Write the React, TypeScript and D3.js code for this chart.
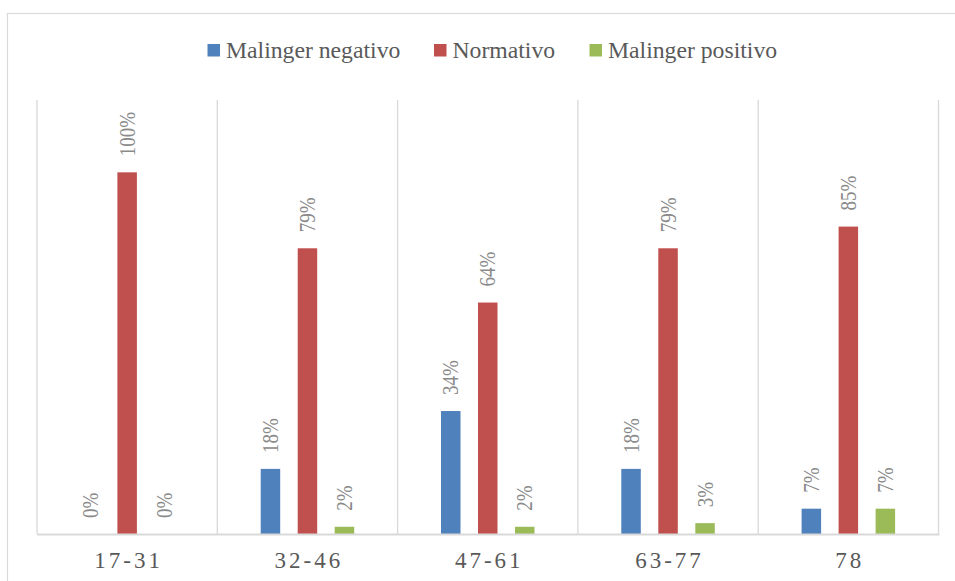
import React from "react";
import * as d3 from "d3";

const categories = ["17-31", "32-46", "47-61", "63-77", "78"];
const seriesNames = ["Malinger negativo", "Normativo", "Malinger positivo"];
const seriesColors = ["#4F81BD", "#C0504D", "#9BBB59"];
const malingerNegativo = [0, 0.18, 0.34, 0.18, 0.07];
const normativo = [1.0, 0.79, 0.64, 0.79, 0.85];
const malingerPositivo = [0, 0.02, 0.02, 0.03, 0.07];
const seriesValues = [malingerNegativo, normativo, malingerPositivo];

const W = 955;
const H = 581;
const plot = { left: 37, right: 938.5, top: 100, bottom: 534 };
const FONT = "'Liberation Serif', 'DejaVu Serif'";

export default function App() {
  const x0 = d3.scaleBand<string>().domain(categories).range([plot.left, plot.right]).padding(0);
  const step = 37;
  const p = 1 - 19.5 / step;
  const x1 = d3
    .scaleBand<string>()
    .domain(seriesNames)
    .range([-step * 1.5, step * 1.5])
    .paddingInner(p)
    .paddingOuter(p / 2);
  const y = d3.scaleLinear().domain([0, 1.2]).range([plot.bottom, plot.top]);
  const fmt = d3.format(".0%");

  const legendX = [207.5, 434, 589.5];
  const catLS = 3;

  return (
    <svg
      width={W}
      height={H}
      style={{ position: "absolute", left: 0, top: 0, background: "#fff", fontFamily: FONT }}
    >
      <rect x={7.5} y={13.5} width={1000} height={700} fill="#fff" stroke="#D9D9D9" strokeWidth={1.2} />
      {/* legend */}
      {seriesNames.map((s, i) => (
        <g key={s}>
          <rect x={legendX[i]} y={44} width={12.5} height={12.5} fill={seriesColors[i]} />
          <text x={legendX[i] + 18.5} y={57.7} fontSize={23.7} fill="#595959" style={{ fontFamily: FONT }}>
            {s}
          </text>
        </g>
      ))}
      {/* gridlines */}
      {[...categories.map((c) => x0(c)!), plot.right].map((gx, i) => (
        <line key={i} x1={gx} x2={gx} y1={plot.top} y2={plot.bottom} stroke="#D9D9D9" strokeWidth={1.3} />
      ))}
      {/* bars */}
      {seriesNames.map((s, si) =>
        categories.map((c, ci) => {
          const v = seriesValues[si][ci];
          const cx = x0(c)! + x0.bandwidth() / 2;
          const bx = cx + x1(s)!;
          return (
            <rect
              key={s + c}
              x={bx}
              y={y(v)}
              width={x1.bandwidth()}
              height={plot.bottom - y(v)}
              fill={seriesColors[si]}
            />
          );
        })
      )}
      {/* axis line */}
      <line x1={plot.left} x2={plot.right + 1} y1={plot.bottom + 0.5} y2={plot.bottom + 0.5} stroke="#D9D9D9" strokeWidth={2} />
      {/* data labels */}
      {seriesNames.map((s, si) =>
        categories.map((c, ci) => {
          const v = seriesValues[si][ci];
          const cx = x0(c)! + x0.bandwidth() / 2 + x1(s)! + x1.bandwidth() / 2;
          return (
            <text
              key={"l" + s + c}
              transform={`translate(${cx},${y(v) - 16}) rotate(-90) scale(1,1.2)`}
              fontSize={19}
              fill="#8A8A8A"
              dominantBaseline="central"
              style={{ fontFamily: FONT }}
            >
              {fmt(v)}
            </text>
          );
        })
      )}
      {/* category labels */}
      {categories.map((c) => (
        <text
          key={"c" + c}
          x={x0(c)! + x0.bandwidth() / 2 + catLS / 2}
          y={568}
          textAnchor="middle"
          fontSize={23}
          fill="#595959"
          letterSpacing={catLS}
          style={{ fontFamily: FONT }}
        >
          {c}
        </text>
      ))}
    </svg>
  );
}
